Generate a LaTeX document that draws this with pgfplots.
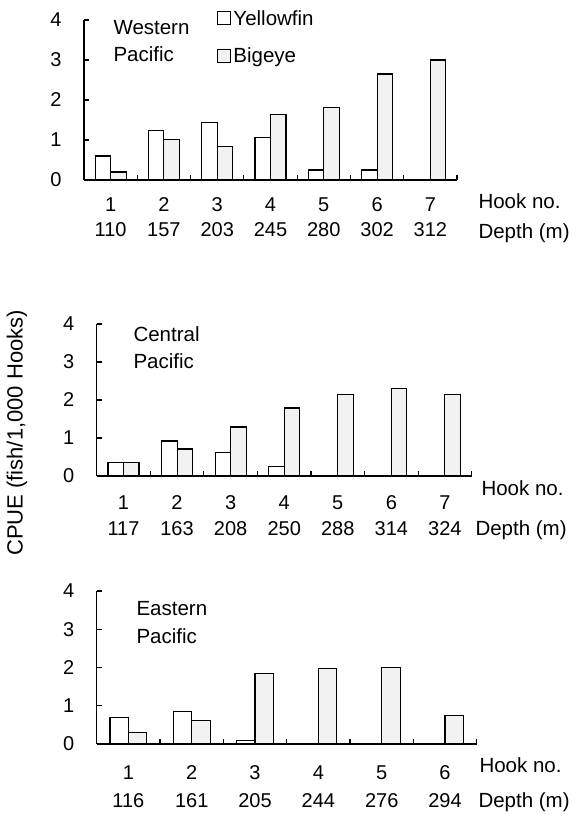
\documentclass[border=0pt]{standalone}
\usepackage{fontspec}
\setmainfont{Liberation Sans}
\usepackage{pgfplots}
\pgfplotsset{compat=1.18}

\newcommand{\ftxt}{\fontsize{20.5bp}{24bp}\selectfont}
\newcommand{\fnum}{\fontsize{20bp}{24bp}\selectfont}
\definecolor{bigeyefill}{gray}{0.95}

% hook number / depth label under a category
\newcommand{\lab}[3]{\node[font=\fnum, anchor=base, yshift=#3] at (axis cs:#1,0) {#2};}

\pgfplotsset{
  sq legend/.style={legend image code/.code={\draw[##1] (0bp,-6.5bp) rectangle (13bp,6.5bp);}},
  yf/.style={draw=black, line width=1.1bp, fill=white, sq legend},
  be/.style={draw=black, line width=1.1bp, fill=bigeyefill, sq legend},
  panel/.style={
    scale only axis, anchor=south west,
    ybar=0pt, bar width=0.29,
    ymin=0, ymax=4, ytick={0,1,2,3,4},
    axis x line=bottom, axis y line=left,
    axis line style={-, line width=1.1bp, black},
    tick align=inside, major tick length=5bp,
    every tick/.style={black, line width=1.1bp},
    xticklabels={},
    yticklabel style={font=\fnum, xshift=-19bp},
    /pgf/number format/assume math mode=true,
    clip=false,
  },
}

\begin{document}
\begin{tikzpicture}
\path[use as bounding box] (0,0) rectangle (576bp,814bp);

% ---- Western Pacific ----
\begin{axis}[panel, at={(84bp,634bp)}, width=373bp, height=160bp,
  xmin=0.5, xmax=7.5, xtick={1.5,2.5,...,7.5},
  legend style={at={(0.357,1.075)}, anchor=north west, draw=none, fill=none,
    font=\ftxt, row sep=17bp, inner sep=0pt, nodes={inner sep=2bp}},
  legend cell align=left]
\addplot[yf] coordinates {(1,0.6) (2,1.23) (3,1.43) (4,1.07) (5,0.25) (6,0.25)};
\addlegendentry{Yellowfin}
\addplot[be] coordinates {(1,0.2) (2,1.02) (3,0.83) (4,1.63) (5,1.82) (6,2.65) (7,3.0)};
\addlegendentry{Bigeye}
\lab{1}{1}{-32bp}\lab{2}{2}{-32bp}\lab{3}{3}{-32bp}\lab{4}{4}{-32bp}
\lab{5}{5}{-32bp}\lab{6}{6}{-32bp}\lab{7}{7}{-32bp}
\lab{1}{110}{-57bp}\lab{2}{157}{-57bp}\lab{3}{203}{-57bp}\lab{4}{245}{-57bp}
\lab{5}{280}{-57bp}\lab{6}{302}{-57bp}\lab{7}{312}{-57bp}
\end{axis}

% ---- Central Pacific ----
\begin{axis}[panel, at={(96.7bp,338bp)}, width=375bp, height=152bp,
  xmin=0.5, xmax=7.5, xtick={1.5,2.5,...,7.5}]
\addplot[yf] coordinates {(1,0.35) (2,0.92) (3,0.63) (4,0.26)};
\addplot[be] coordinates {(1,0.35) (2,0.71) (3,1.29) (4,1.79) (5,2.15) (6,2.3) (7,2.15)};
\lab{1}{1}{-34bp}\lab{2}{2}{-34bp}\lab{3}{3}{-34bp}\lab{4}{4}{-34bp}
\lab{5}{5}{-34bp}\lab{6}{6}{-34bp}\lab{7}{7}{-34bp}
\lab{1}{117}{-60bp}\lab{2}{163}{-60bp}\lab{3}{208}{-60bp}\lab{4}{250}{-60bp}
\lab{5}{288}{-60bp}\lab{6}{314}{-60bp}\lab{7}{324}{-60bp}
\end{axis}

% ---- Eastern Pacific ----
\begin{axis}[panel, at={(96.7bp,70bp)}, width=380bp, height=153bp,
  xmin=0.5, xmax=6.5, xtick={1.5,2.5,...,6.5}]
\addplot[yf] coordinates {(1,0.70) (2,0.84) (3,0.1)};
\addplot[be] coordinates {(1,0.31) (2,0.62) (3,1.85) (4,1.97) (5,2.0) (6,0.75)};
\lab{1}{1}{-35bp}\lab{2}{2}{-35bp}\lab{3}{3}{-35bp}
\lab{4}{4}{-35bp}\lab{5}{5}{-35bp}\lab{6}{6}{-35bp}
\lab{1}{116}{-63bp}\lab{2}{161}{-63bp}\lab{3}{205}{-63bp}
\lab{4}{244}{-63bp}\lab{5}{276}{-63bp}\lab{6}{294}{-63bp}
\end{axis}

% panel names
\node[font=\ftxt, anchor=base west] at (110bp,779bp) {Western};
\node[font=\ftxt, anchor=base west] at (110bp,752bp) {Pacific};
\node[font=\ftxt, anchor=base west] at (130bp,472bp) {Central};
\node[font=\ftxt, anchor=base west] at (130bp,445bp) {Pacific};
\node[font=\ftxt, anchor=base west] at (133bp,198bp) {Eastern};
\node[font=\ftxt, anchor=base west] at (133bp,170bp) {Pacific};

% row captions
\node[font=\ftxt, anchor=base west] at (475bp,605bp) {Hook no.};
\node[font=\ftxt, anchor=base west] at (475bp,575bp) {Depth (m)};
\node[font=\ftxt, anchor=base west] at (478bp,318bp) {Hook no.};
\node[font=\ftxt, anchor=base west] at (472bp,278bp) {Depth (m)};
\node[font=\ftxt, anchor=base west] at (476bp,41bp) {Hook no.};
\node[font=\ftxt, anchor=base west] at (475bp,7bp) {Depth (m)};

% shared y label
\node[font=\fontsize{22bp}{26bp}\selectfont, rotate=90] at (17bp,381bp) {CPUE (fish/1,000 Hooks)};
\end{tikzpicture}
\end{document}
